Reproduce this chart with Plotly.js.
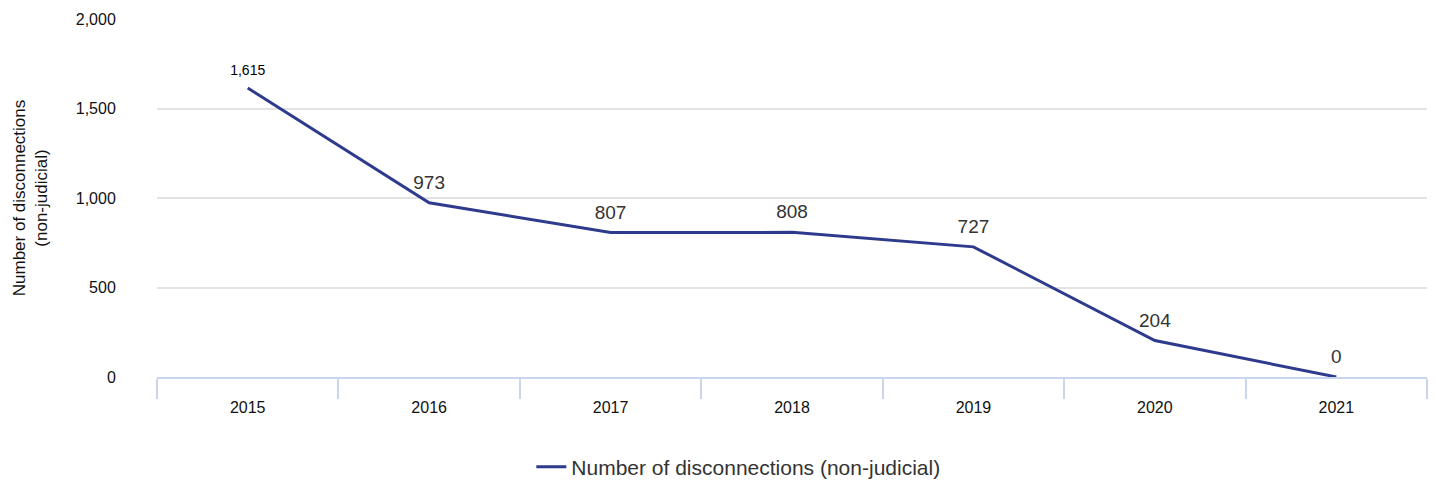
<!DOCTYPE html>
<html>
<head>
<meta charset="utf-8">
<script src="https://cdn.plot.ly/plotly-3.0.1.min.js"></script>
<style>
  html, body { margin: 0; padding: 0; background: #fff; }
  #chart { width: 1436px; height: 482px; }
</style>
</head>
<body>
<div id="chart"></div>
<script>
// Yearly non-judicial disconnections
const years = ['2015', '2016', '2017', '2018', '2019', '2020', '2021'];
const disconnections = [1615, 973, 807, 808, 727, 204, 0];
const seriesName = 'Number of disconnections (non-judicial)';
const yTickValues = [0, 500, 1000, 1500, 2000];
const yTickLabels = ['0', '500', '1,000', '1,500', '2,000'];

const FONT = '"Liberation Sans", Arial, Helvetica, sans-serif';

// First point's label is set smaller and darker than the rest
const labelSizes = disconnections.map((v, i) => i === 0 ? 14 : 19);
const labelColors = disconnections.map((v, i) => i === 0 ? '#000' : '#333');

const trace = {
  type: 'scatter',
  mode: 'lines+markers+text',
  x: years,
  y: disconnections,
  name: seriesName,
  line: { color: '#2e3a8c', width: 3 },
  // invisible markers keep the value labels lifted off the line
  marker: { size: 13, color: 'rgba(0,0,0,0)' },
  text: disconnections.map(v => v.toLocaleString('en-US')),
  textposition: 'top center',
  textfont: { family: FONT, size: labelSizes, color: labelColors },
  cliponaxis: false,
  hoverinfo: 'x+y'
};

const layout = {
  width: 1436,
  height: 482,
  margin: { l: 157, r: 9, t: 19, b: 105 },
  paper_bgcolor: '#fff',
  plot_bgcolor: '#fff',
  font: { family: FONT, color: '#111' },
  xaxis: {
    type: 'category',
    range: [-0.5, 6.5],
    showgrid: false,
    zeroline: false,
    showline: true,
    linecolor: '#c9d5ee',
    linewidth: 2,
    ticks: 'outside',
    tickson: 'boundaries',
    ticklen: 20,
    tickwidth: 2,
    tickcolor: '#c9d5ee',
    ticklabelstandoff: 15,
    tickfont: { size: 16, color: '#111' }
  },
  yaxis: {
    range: [0, 2000],
    tickvals: yTickValues,
    ticktext: yTickLabels,
    showgrid: true,
    gridcolor: '#e3e3e3',
    gridwidth: 1.5,
    zeroline: false,
    ticks: 'outside',
    ticklen: 37,
    tickcolor: 'rgba(0,0,0,0)',
    tickfont: { size: 16, color: '#111' },
    title: {
      text: 'Number of disconnections<br>(non-judicial)',
      font: { size: 17, color: '#111' },
      standoff: 23
    }
  },
  showlegend: true,
  legend: {
    orientation: 'h',
    xref: 'container',
    yref: 'container',
    x: 0.37,
    xanchor: 'left',
    y: 0.031,
    yanchor: 'middle',
    font: { size: 21, color: '#333' }
  }
};

Plotly.newPlot('chart', [trace], layout, { displayModeBar: false, responsive: false });
</script>
</body>
</html>
